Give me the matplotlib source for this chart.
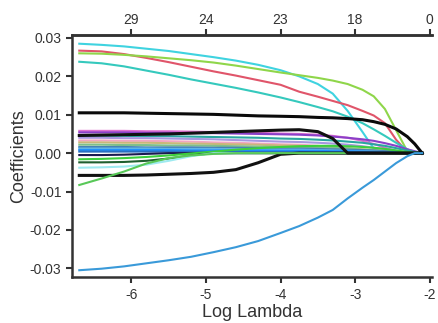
import matplotlib
matplotlib.use("Agg")
import matplotlib.pyplot as plt

plt.rcParams['font.family'] = ['Liberation Sans', 'DejaVu Sans']

log_lambda = [-6.7, -6.4, -6.1, -5.8, -5.5, -5.2, -4.9, -4.6, -4.3, -4.0, -3.75,
              -3.5, -3.3, -3.1, -2.9, -2.75, -2.6, -2.45, -2.3, -2.2, -2.1]

# top axis: number of non-zero coefficients
df_ticks = [-6, -5, -4, -3, -2]
df_labels = ['29', '24', '23', '18', '0']

# coefficient paths
cyan_top   = [.0285, .0282, .0278, .0272, .0266, .0258, .0250, .0241, .0230, .0216, .0200,
              .0180, .0155, .0110, .0055, .0012, 0, 0, 0, 0, 0]
red_path   = [.0267, .0265, .0258, .0248, .0237, .0225, .0213, .0202, .0190, .0178, .0160,
              .0147, .0136, .0125, .0110, .0098, .0078, .0035, .0003, 0, 0]
green_top  = [.0260, .0259, .0256, .0252, .0247, .0242, .0236, .0228, .0219, .0210, .0203,
              .0196, .0189, .0180, .0165, .0148, .0115, .0060, .0005, 0, 0]
cyan_2     = [.0238, .0234, .0226, .0215, .0204, .0192, .0181, .0170, .0158, .0145, .0133,
              .0120, .0109, .0095, .0078, .0062, .0045, .0027, .0010, .0003, 0]
black_top  = [.0105, .0105, .0105, .0104, .0103, .0102, .0101, .0099, .0097, .0096, .0095,
              .0093, .0092, .0090, .0087, .0082, .0075, .0063, .0043, .0024, 0]
magenta    = [.0058, .0058, .0058, .0057, .0057, .0056, .0055, .0054, .0053, .0051, .0050,
              .0048, .0045, .0040, .0032, .0024, .0014, .0006, 0, 0, 0]
purple     = [.0054, .0054, .0054, .0053, .0053, .0052, .0052, .0051, .0050, .0049, .0048,
              .0046, .0043, .0040, .0036, .0032, .0026, .0019, .0010, .0005, 0]
black_arc  = [.0046, .0047, .0048, .0049, .0050, .0052, .0054, .0056, .0058, .0060, .0061,
              .0056, .0038, 0, 0, 0, 0, 0, 0, 0, 0]
teal       = [.0045, .0045, .0045, .0044, .0044, .0043, .0042, .0041, .0040, .0038, .0037,
              .0035, .0033, .0030, .0027, .0023, .0019, .0013, .0007, .0003, 0]
lavender   = [.0040, .0040, .0039, .0039, .0038, .0037, .0036, .0034, .0032, .0030, .0029,
              .0027, .0025, .0022, .0018, .0014, .0010, .0006, .0002, 0, 0]
pink_light = [.0033, .0033, .0032, .0032, .0031, .0030, .0028, .0027, .0025, .0023, .0022,
              .0019, .0016, .0012, .0008, .0005, .0002, 0, 0, 0, 0]
tan_path   = [.0028, .0028, .0027, .0027, .0026, .0025, .0024, .0023, .0022, .0020, .0019,
              .0017, .0015, .0013, .0010, .0008, .0006, .0004, .0001, 0, 0]
sage       = [.0022, .0022, .0021, .0021, .0020, .0020, .0019, .0018, .0017, .0016, .0016,
              .0015, .0014, .0012, .0009, .0007, .0005, .0002, 0, 0, 0]
steelblue  = [.0016, .0016, .0016, .0015, .0015, .0015, .0014, .0014, .0013, .0012, .0012,
              .0011, .0010, .0009, .0008, .0007, .0005, .0004, .0002, .0001, 0]
skyblue    = [.0012, .0012, .0012, .0012, .0011, .0011, .0011, .0010, .0010, .0009, .0009,
              .0008, .0007, .0006, .0005, .0004, .0003, .0002, .0001, 0, 0]
dodger     = [.0008, .0008, .0008, .0008, .0008, .0007, .0007, .0007, .0007, .0006, .0006,
              .0006, .0005, .0005, .0004, .0003, .0002, .0002, .0001, 0, 0]
midblue    = [.0004, .0004, .0004, .0004, .0004, .0004, .0003, .0003, .0003, .0003, .0003,
              .0002, .0002, .0002, .0002, .0001, .0001, .0001, 0, 0, 0]
navy       = [-.0005, -.0005, -.0004, -.0002, 0, 0, 0, 0, 0, 0, 0,
              0, 0, 0, 0, 0, 0, 0, 0, 0, 0]
green_low  = [-.0016, -.0015, -.0013, -.0010, -.0006, -.0001, .0004, .0009, .0013, .0016, .0018,
              .0019, .0019, .0018, .0016, .0014, .0011, .0007, .0003, .0001, 0]
dkgreen    = [-.0024, -.0024, -.0023, -.0020, -.0014, -.0006, 0, 0, 0, 0, 0,
              0, 0, 0, 0, 0, 0, 0, 0, 0, 0]
cyan_low   = [-.0038, -.0037, -.0035, -.0030, -.0020, -.0008, 0, 0, 0, 0, 0,
              0, 0, 0, 0, 0, 0, 0, 0, 0, 0]
black_low  = [-.0058, -.0058, -.0058, -.0057, -.0055, -.0053, -.0050, -.0043, -.0025, -.0003, 0,
              0, 0, 0, 0, 0, 0, 0, 0, 0, 0]
green_neg  = [-.0083, -.0066, -.0048, -.0027, -.0013, -.0006, -.0002, 0, 0, 0, 0,
              0, 0, 0, 0, 0, 0, 0, 0, 0, 0]
blue_neg   = [-.0305, -.0301, -.0295, -.0287, -.0279, -.0270, -.0258, -.0245, -.0229, -.0208, -.0190,
              -.0168, -.0148, -.0118, -.0090, -.0070, -.0048, -.0026, -.0008, 0, 0]

paths = [
    (cyan_top, '#3fd3e0'), (red_path, '#e0556a'), (green_top, '#8fd64a'),
    (cyan_2, '#35c9bd'), (magenta, '#e070d0'), (purple, '#8a3fc8'),
    (teal, '#2aa6a0'), (lavender, '#a896e0'), (pink_light, '#f2a6c2'),
    (tan_path, '#c9b77a'), (sage, '#7fbf8a'), (steelblue, '#4682b4'),
    (skyblue, '#5fb4e6'), (dodger, '#1e90ff'), (midblue, '#2a6fc0'),
    (navy, '#1a1a50'), (green_low, '#3ccf3c'), (dkgreen, '#1f5f2f'),
    (cyan_low, '#9eeaf0'), (black_low, '#111111'), (green_neg, '#58c858'),
    (black_arc, '#111111'), (black_top, '#0a0a0a'), (blue_neg, '#3a9ad9'),
]

fig = plt.figure(figsize=(4.38, 3.23), dpi=100)
ax = fig.add_axes([0.164, 0.142, 0.822, 0.750])

for vals, col in paths:
    lw = 2.2 if col in ('#0a0a0a', '#111111') else 1.5
    ax.plot(log_lambda, vals, color=col, lw=lw, solid_joinstyle='round')

ax.set_xlim(-6.8, -1.97)
ax.set_ylim(-0.0323, 0.0308)
ax.set_xticks(df_ticks)
ax.set_xticklabels([str(t) for t in df_ticks])
ax.set_yticks([0.03, 0.02, 0.01, 0.0, -0.01, -0.02, -0.03])
ax.set_yticklabels(['0.03', '0.02', '0.01', '0.00', '-0.01', '-0.02', '-0.03'])
ax.tick_params(labelsize=10, colors='#333333', length=4, width=1.5)
ax.set_xlabel('Log Lambda', fontsize=13, color='#333333', labelpad=2)
ax.set_ylabel('Coefficients', fontsize=13, color='#333333', labelpad=2)

for side in ['left', 'bottom', 'top']:
    ax.spines[side].set_linewidth(1.8)
    ax.spines[side].set_color('#333333')
ax.spines['right'].set_visible(False)

top = ax.twiny()
top.set_xlim(ax.get_xlim())
top.set_xticks(df_ticks)
top.set_xticklabels(df_labels)
top.tick_params(labelsize=10, colors='#333333', length=4, width=1.5, pad=2)
for side in ['left', 'bottom', 'right']:
    top.spines[side].set_visible(False)
top.spines['top'].set_linewidth(1.8)
top.spines['top'].set_color('#333333')

fig.savefig('out.png', dpi=100)
